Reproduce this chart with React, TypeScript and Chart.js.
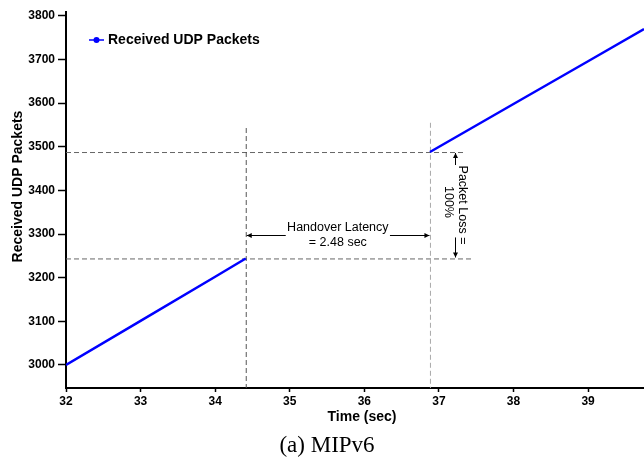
import React, { useEffect, useRef } from "react";
import { Chart, registerables } from "chart.js";

Chart.register(...registerables);

// ---- data ----
const timeSec = [32, 33, 34, 34.41, 35.6, 36.88, 38, 39, 39.75];
const receivedPackets = [3000, 3101, 3202, 3244, null, 3488, 3598, 3696, 3770];
const xTickValues = [32, 33, 34, 35, 36, 37, 38, 39];
const yTickValues = [3000, 3100, 3200, 3300, 3400, 3500, 3600, 3700, 3800];
const seriesLabel = "Received UDP Packets";
const xTitle = "Time (sec)";
const yTitle = "Received UDP Packets";
const caption = "(a) MIPv6";
const handoverStart = 34.41;
const handoverEnd = 36.88;
const lossLow = 3244;
const lossHigh = 3488;
const handoverText = ["Handover Latency", "= 2.48 sec"];
const lossText = ["Packet Loss =", "100%"];

const SANS = '"Liberation Sans", Arial, Helvetica, sans-serif';
const SERIF = '"Liberation Serif", "Times New Roman", serif';

function arrow(ctx: CanvasRenderingContext2D, x1: number, y1: number, x2: number, y2: number) {
  ctx.save();
  ctx.strokeStyle = "#000";
  ctx.fillStyle = "#000";
  ctx.lineWidth = 1;
  ctx.setLineDash([]);
  ctx.beginPath();
  ctx.moveTo(x1, y1);
  ctx.lineTo(x2, y2);
  ctx.stroke();
  const ang = Math.atan2(y2 - y1, x2 - x1);
  const len = 5;
  const hw = 2.5;
  ctx.beginPath();
  ctx.moveTo(x2, y2);
  ctx.lineTo(x2 - len * Math.cos(ang) - hw * Math.sin(ang), y2 - len * Math.sin(ang) + hw * Math.cos(ang));
  ctx.lineTo(x2 - len * Math.cos(ang) + hw * Math.sin(ang), y2 - len * Math.sin(ang) - hw * Math.cos(ang));
  ctx.closePath();
  ctx.fill();
  ctx.restore();
}

const annotationPlugin = {
  id: "annotations",
  beforeDatasetsDraw(chart: any) {
    const ctx: CanvasRenderingContext2D = chart.ctx;
    const xs = chart.scales.x;
    const ys = chart.scales.y;
    const area = chart.chartArea;
    const xA = xs.getPixelForValue(handoverStart);
    const xB = xs.getPixelForValue(handoverEnd);
    const yLow = ys.getPixelForValue(lossLow);
    const yHigh = ys.getPixelForValue(lossHigh);
    ctx.save();
    ctx.lineWidth = 1;
    ctx.setLineDash([5, 3]);
    // horizontal guides
    ctx.strokeStyle = "#666";
    ctx.beginPath();
    ctx.moveTo(area.left, yLow + 0.5);
    ctx.lineTo(xs.getPixelForValue(37.44), yLow + 0.5);
    ctx.stroke();
    ctx.beginPath();
    ctx.moveTo(area.left, yHigh + 0.5);
    ctx.lineTo(xs.getPixelForValue(37.34), yHigh + 0.5);
    ctx.stroke();
    // vertical guides
    ctx.strokeStyle = "#555";
    ctx.beginPath();
    ctx.moveTo(xA + 0.5, ys.getPixelForValue(3543));
    ctx.lineTo(xA + 0.5, area.bottom);
    ctx.stroke();
    ctx.strokeStyle = "#aaa";
    ctx.beginPath();
    ctx.moveTo(xB + 0.5, ys.getPixelForValue(3555));
    ctx.lineTo(xB + 0.5, area.bottom);
    ctx.stroke();
    ctx.restore();

    // handover arrows + text
    const ay = 235.5;
    arrow(ctx, xA + 40, ay, xA + 1, ay);
    arrow(ctx, xB - 40, ay, xB - 0.5, ay);
    ctx.save();
    ctx.fillStyle = "#000";
    ctx.font = `12.5px ${SANS}`;
    ctx.textAlign = "center";
    ctx.textBaseline = "middle";
    const cx = (xA + xB) / 2;
    ctx.fillText(handoverText[0], cx, 228);
    ctx.fillText(handoverText[1], cx, 243);
    ctx.restore();

    // packet loss arrows + rotated text
    const lx = 455.5;
    arrow(ctx, lx, yHigh + 13, lx, yHigh + 1);
    arrow(ctx, lx, yLow - 21, lx, yLow - 1);
    ctx.save();
    ctx.fillStyle = "#000";
    ctx.font = `12.5px ${SANS}`;
    ctx.textAlign = "center";
    ctx.textBaseline = "middle";
    ctx.translate(462, 205);
    ctx.rotate(Math.PI / 2);
    ctx.fillText(lossText[0], 0, 0);
    ctx.fillText(lossText[1], -3, 14);
    ctx.restore();
  },
  afterDraw(chart: any) {
    const ctx: CanvasRenderingContext2D = chart.ctx;
    const ds = chart.data.datasets[0];
    ctx.save();
    // legend
    ctx.strokeStyle = ds.borderColor;
    ctx.fillStyle = ds.borderColor;
    ctx.lineWidth = 1.5;
    ctx.beginPath();
    ctx.moveTo(89, 40);
    ctx.lineTo(104, 40);
    ctx.stroke();
    ctx.beginPath();
    ctx.arc(96.5, 40, 3, 0, Math.PI * 2);
    ctx.fill();
    ctx.fillStyle = "#000";
    ctx.font = `bold 14px ${SANS}`;
    ctx.textAlign = "left";
    ctx.textBaseline = "middle";
    ctx.fillText(ds.label, 108, 40.5);
    // axis titles
    ctx.textAlign = "center";
    ctx.fillText(xTitle, 362, 417.5);
    ctx.save();
    ctx.translate(18, 186.5);
    ctx.rotate(-Math.PI / 2);
    ctx.fillText(yTitle, 0, 0);
    ctx.restore();
    // caption
    ctx.font = `23px ${SERIF}`;
    ctx.fillText(caption, 327, 446);
    ctx.restore();
  },
};

export default function App() {
  const canvasRef = useRef<HTMLCanvasElement | null>(null);

  useEffect(() => {
    const canvas = canvasRef.current;
    if (!canvas) return;
    const chart = new Chart(canvas, {
      type: "line",
      data: {
        labels: timeSec,
        datasets: [
          {
            label: seriesLabel,
            data: timeSec.map((t, i) => ({ x: t, y: receivedPackets[i] })) as any,
            borderColor: "#0000ff",
            backgroundColor: "#0000ff",
            borderWidth: 2.5,
            pointRadius: 0,
            spanGaps: false,
            tension: 0,
          },
        ],
      },
      options: {
        responsive: false,
        animation: false,
        events: [],
        layout: { padding: { top: 12, right: 0, left: 0, bottom: 0 } },
        plugins: {
          legend: { display: false },
          tooltip: { enabled: false },
          title: { display: false },
        },
        scales: {
          x: {
            type: "linear",
            min: 32,
            max: 39.75,
            afterBuildTicks: (scale: any) => {
              scale.ticks = xTickValues.map((v) => ({ value: v }));
            },
            afterFit: (scale: any) => {
              scale.height = 70;
            },
            grid: {
              drawOnChartArea: false,
              drawTicks: true,
              tickLength: 4,
              tickWidth: 1.5,
              tickColor: "#000",
            },
            border: { display: true, color: "#000", width: 2 },
            ticks: {
              color: "#000",
              font: { family: SANS, size: 12, weight: "bold" },
              padding: 2,
              maxRotation: 0,
              autoSkip: false,
              callback: (v: any) => String(v),
            },
          },
          y: {
            type: "linear",
            min: 2947,
            max: 3809,
            afterBuildTicks: (scale: any) => {
              scale.ticks = yTickValues.map((v) => ({ value: v }));
            },
            afterFit: (scale: any) => {
              scale.width = 66;
            },
            grid: {
              drawOnChartArea: false,
              drawTicks: true,
              tickLength: 8,
              tickWidth: 1.5,
              tickColor: "#000",
            },
            border: { display: true, color: "#000", width: 2 },
            ticks: {
              color: "#000",
              font: { family: SANS, size: 12, weight: "bold" },
              padding: 3,
              autoSkip: false,
              callback: (v: any) => String(v),
            },
          },
        },
      } as any,
      plugins: [annotationPlugin],
    });
    return () => chart.destroy();
  }, []);

  return (
    <div style={{ position: "absolute", left: 0, top: 0, width: 644, height: 458, background: "#fff" }}>
      <canvas ref={canvasRef} width={644} height={458} style={{ display: "block" }} />
    </div>
  );
}
